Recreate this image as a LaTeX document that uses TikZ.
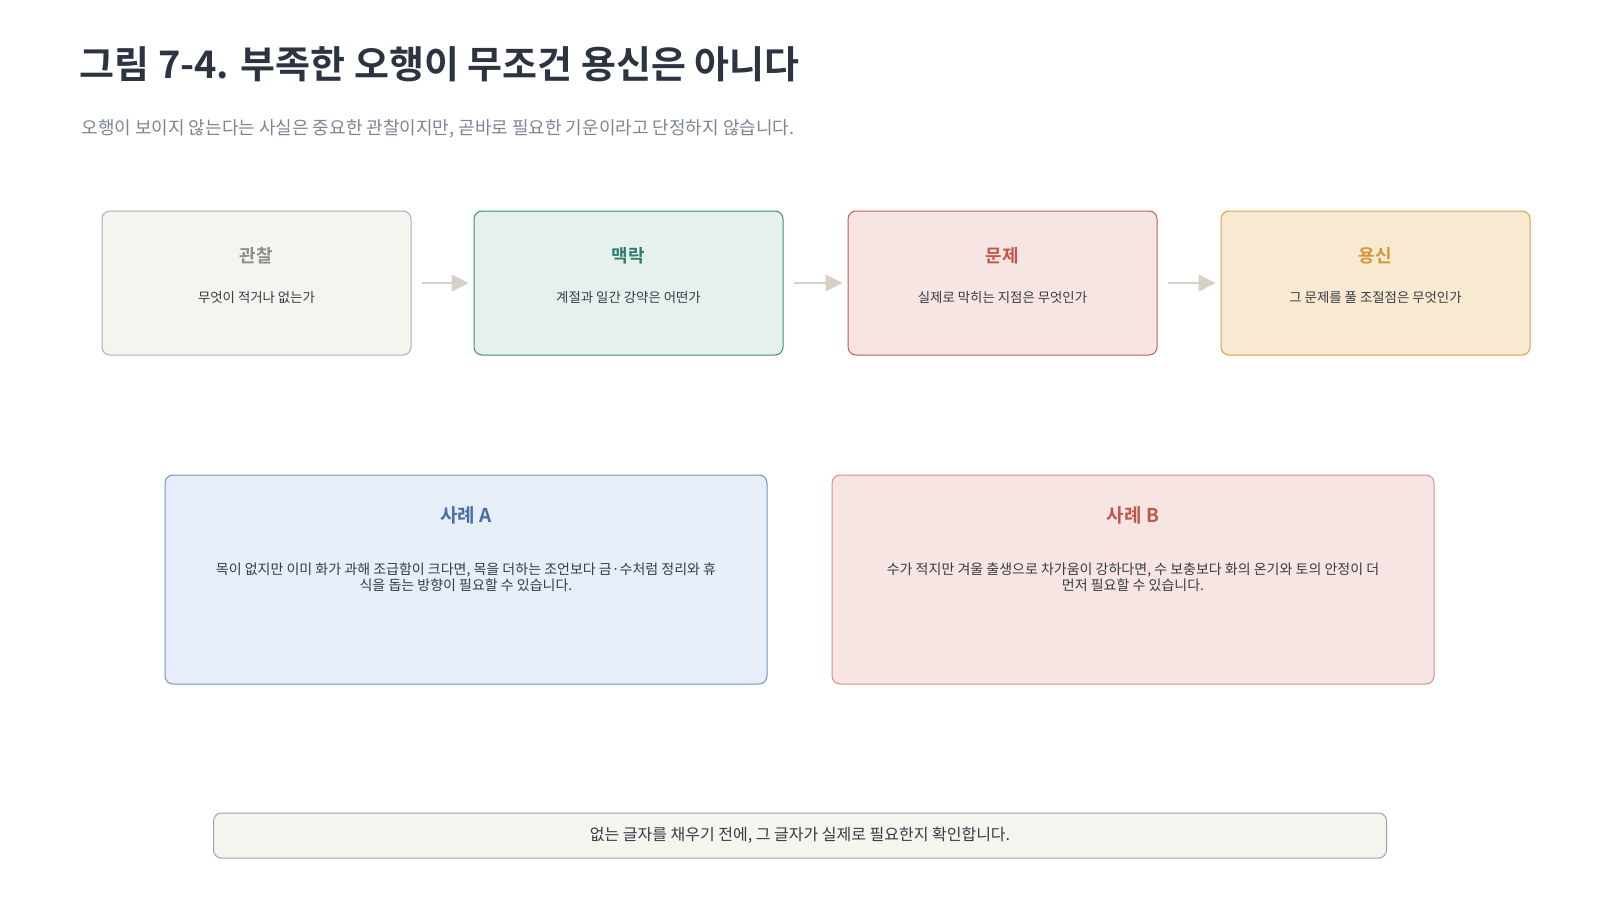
\documentclass[tikz,border=0pt]{standalone}
\usepackage{fontspec}
\setmainfont{Noto Sans CJK KR}[BoldFont={Noto Sans CJK KR Bold}]
\usetikzlibrary{arrows.meta}

% Colours
\definecolor{titleink}{HTML}{2B3440}
\definecolor{subink}{HTML}{7B8594}
\definecolor{bodyink}{HTML}{353C46}
\definecolor{arrowgray}{HTML}{D6D1C4}
\definecolor{obsfill}{HTML}{F5F4EF}\definecolor{obsline}{HTML}{ABADB2}\definecolor{obshead}{HTML}{8E8E8E}
\definecolor{ctxfill}{HTML}{E6F1EE}\definecolor{ctxline}{HTML}{3B8C7E}\definecolor{ctxhead}{HTML}{2E7D6F}
\definecolor{probfill}{HTML}{F6E5E3}\definecolor{probline}{HTML}{C85A4E}\definecolor{probhead}{HTML}{C0584A}
\definecolor{yongfill}{HTML}{F7EAD0}\definecolor{yongline}{HTML}{D9A047}\definecolor{yonghead}{HTML}{D39636}
\definecolor{casAfill}{HTML}{E8EEF7}\definecolor{casAline}{HTML}{7094C4}\definecolor{casAhead}{HTML}{4470A6}
\definecolor{casBline}{HTML}{D98F85}
\definecolor{notefill}{HTML}{F5F4EF}\definecolor{noteline}{HTML}{9EA2AA}

\begin{document}
\begin{tikzpicture}[x=1pt,y=-1pt,
		stage/.style={draw,rounded corners=8pt,line width=1pt,minimum width=309pt,minimum height=144pt,inner sep=0pt},
		casebox/.style={draw,rounded corners=8pt,line width=1pt,minimum width=602pt,minimum height=209pt,inner sep=0pt},
		stagehead/.style={font=\fontsize{18}{22}\selectfont\bfseries},
		casehead/.style={font=\fontsize{19}{23}\selectfont\bfseries},
		stagetext/.style={font=\fontsize{13.4}{16}\selectfont,text=bodyink},
		casetext/.style={font=\fontsize{14}{16}\selectfont,text=bodyink,align=center},
		flow/.style={draw=arrowgray,line width=1.5pt,-{Triangle[length=17pt,width=17pt]},shorten <=10pt,shorten >=5pt}]
		\useasboundingbox (0,0) rectangle (1600,900);
		
		% Title and subtitle
		\node[anchor=west,text=titleink,font=\fontsize{38}{44}\selectfont\bfseries] (title) at (76,64) {그림 7-4. 부족한 오행이 무조건 용신은 아니다};
		\node[anchor=west,text=subink,font=\fontsize{18}{22}\selectfont] (subtitle) at (78,129) {오행이 보이지 않는다는 사실은 중요한 관찰이지만, 곧바로 필요한 기운이라고 단정하지 않습니다.};
		
		% Four stages
		\node[stage,fill=obsfill,draw=obsline] (obs) at (256.5,283) {};
		\node[stage,fill=ctxfill,draw=ctxline] (ctx) at (628.5,283) {};
		\node[stage,fill=probfill,draw=probline] (prob) at (1002.5,283) {};
		\node[stage,fill=yongfill,draw=yongline] (yong) at (1375.5,283) {};
		
		\node[stagehead,text=obshead] at ([yshift=27pt]obs.center) {관찰};
		\node[stagetext] at ([yshift=-14pt]obs.center) {무엇이 적거나 없는가};
		\node[stagehead,text=ctxhead] at ([yshift=27pt]ctx.center) {맥락};
		\node[stagetext] at ([yshift=-14pt]ctx.center) {계절과 일간 강약은 어떤가};
		\node[stagehead,text=probhead] at ([yshift=27pt]prob.center) {문제};
		\node[stagetext] at ([yshift=-14pt]prob.center) {실제로 막히는 지점은 무엇인가};
		\node[stagehead,text=yonghead] at ([yshift=27pt]yong.center) {용신};
		\node[stagetext] at ([yshift=-14pt]yong.center) {그 문제를 풀 조절점은 무엇인가};
		
		% Arrows between stages
		\draw[flow] (obs) -- (ctx);
		\draw[flow] (ctx) -- (prob);
		\draw[flow] (prob) -- (yong);
		
		% Two cases
		\node[casebox,fill=casAfill,draw=casAline] (caseA) at (466,579.5) {};
		\node[casebox,fill=probfill,draw=casBline] (caseB) at (1133,579.5) {};
		
		\node[casehead,text=casAhead] at ([yshift=64pt]caseA.center) {사례 A};
		\node[casetext] at ([yshift=2pt]caseA.center) {목이 없지만 이미 화가 과해 조급함이 크다면, 목을 더하는 조언보다 금·수처럼 정리와 휴\\식을 돕는 방향이 필요할 수 있습니다.};
		\node[casehead,text=probhead] at ([yshift=64pt]caseB.center) {사례 B};
		\node[casetext] at ([yshift=2pt]caseB.center) {수가 적지만 겨울 출생으로 차가움이 강하다면, 수 보충보다 화의 온기와 토의 안정이 더\\먼저 필요할 수 있습니다.};
		
		% Closing note
		\node[draw=noteline,fill=notefill,rounded corners=8pt,line width=1pt,minimum width=1173pt,minimum height=45pt,text=bodyink,font=\fontsize{16}{19}\selectfont] (note) at (800,835.5) {없는 글자를 채우기 전에, 그 글자가 실제로 필요한지 확인합니다.};
		
	\end{tikzpicture}
\end{document}
